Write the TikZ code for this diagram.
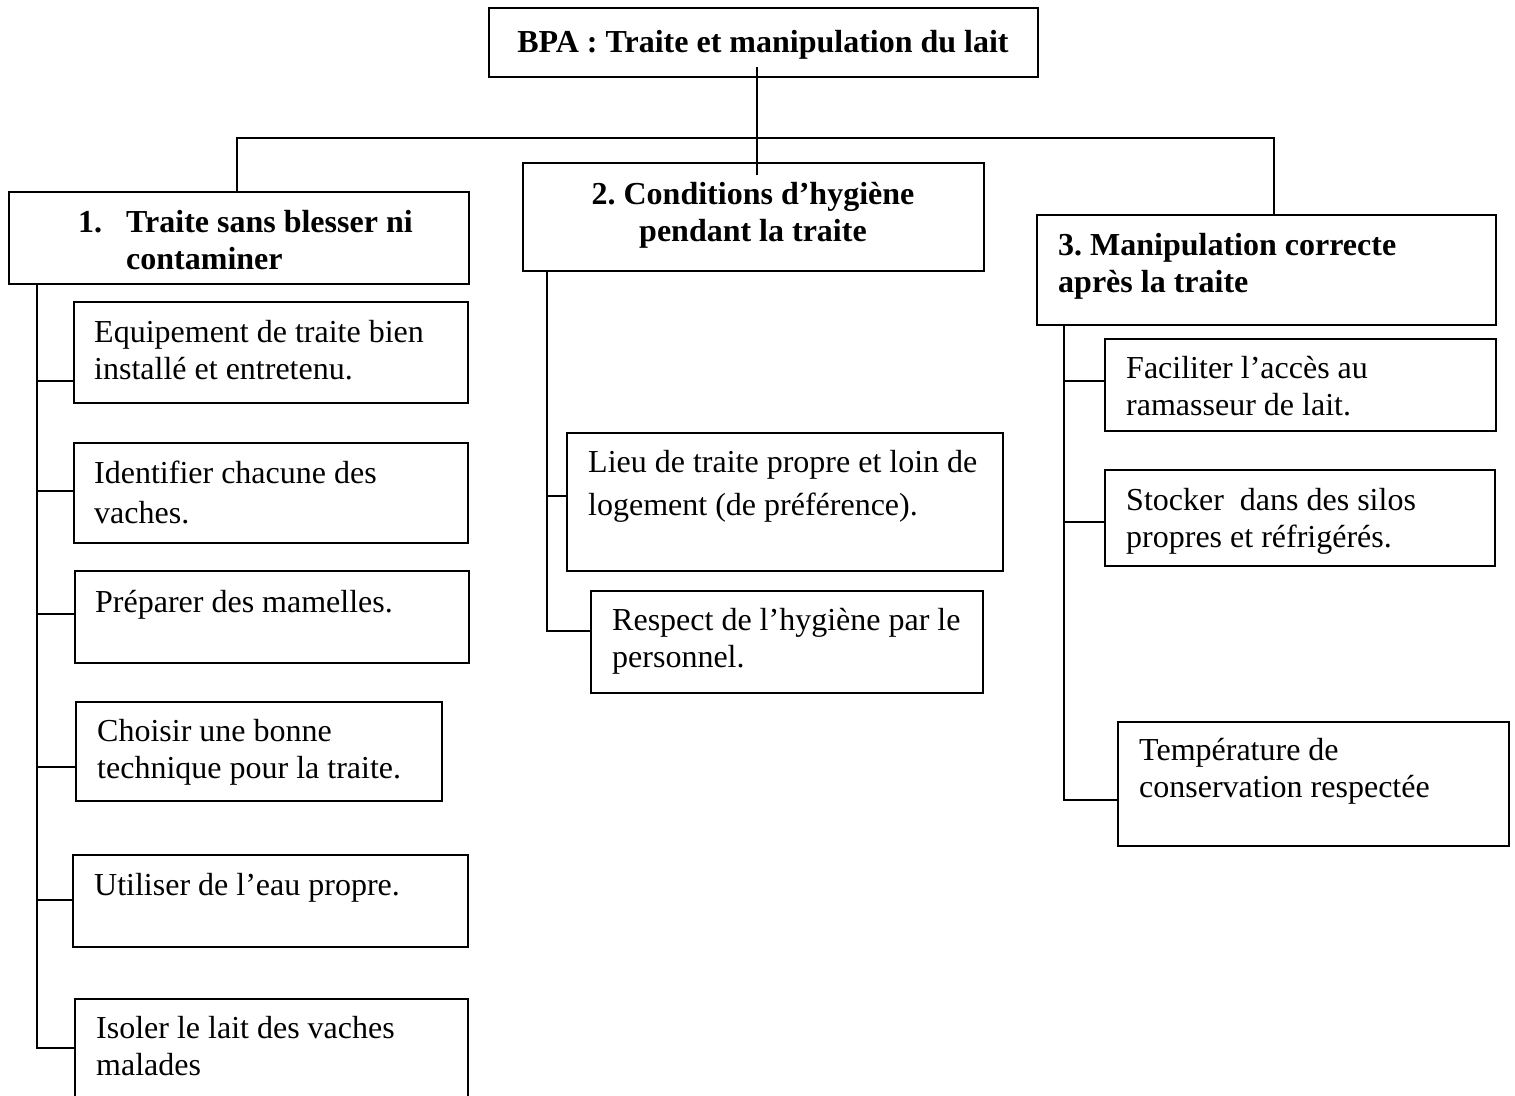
\documentclass[tikz,border=0pt]{standalone}
\usepackage{fontspec}
\setmainfont{Liberation Serif}
\usetikzlibrary{calc}
\frenchspacing
\newcommand{\fz}{\fontsize{32}{37}\selectfont\frenchspacing}
\newcommand{\mkbox}[5]{\node[box, minimum width={#4pt-#2pt}, minimum height={#5pt-#3pt}] (#1) at (#2,#3) {};}
\begin{document}
\begin{tikzpicture}[x=1pt,y=-1pt,
  box/.style={draw, line width=1.5pt, inner sep=0pt, outer sep=0pt, anchor=north west, rectangle},
  txt/.style={inner sep=0pt, anchor=north west, align=left, font=\fz},
  btxt/.style={txt, font=\fz\bfseries},
  conn/.style={line width=1.5pt}]
\useasboundingbox (0,0) rectangle (1515,1095);
\clip (0,0) rectangle (1515,1095);
% boxes
\mkbox{top}{489}{8}{1038}{77}
\mkbox{b1}{9}{192}{469}{284}
\mkbox{b2}{523}{163}{984}{271}
\mkbox{b3}{1037}{215}{1496}{325}
\mkbox{c1}{74}{302}{468}{403}
\mkbox{c2}{74}{443}{468}{543}
\mkbox{c3}{75}{571}{469}{663}
\mkbox{c4}{76}{702}{442}{801}
\mkbox{c5}{73}{855}{468}{947}
\mkbox{c6}{75}{999}{468}{1120}
\mkbox{m1}{567}{433}{1003}{571}
\mkbox{m2}{591}{591}{983}{693}
\mkbox{r1}{1105}{339}{1496}{431}
\mkbox{r2}{1105}{470}{1495}{566}
\mkbox{r3}{1118}{722}{1509}{846}
% texts
\node[btxt, anchor=north, align=center] (ttop) at (763,26.1) {\strut BPA : Traite et manipulation du lait};
\node[btxt] (tb1) at (78,206.1) {\strut\makebox[48pt][l]{1.}Traite sans blesser ni\\\strut\hspace*{48pt}contaminer};
\node[btxt, anchor=north, align=center] (tb2) at (753,178.1) {\strut 2. Conditions d’hygiène\\\strut pendant la traite};
\node[btxt] (tb3) at (1058,229.1) {\strut 3. Manipulation correcte\\\strut après la traite};
\node[txt] (tc1) at (94,316.1) {\strut Equipement de traite bien\\\strut installé et entretenu.};
\node[txt] (tc2) at (94,457.1) {\strut Identifier chacune des\\[3pt]\strut vaches.};
\node[txt] (tc3) at (95,586.1) {\strut Préparer des mamelles.};
\node[txt] (tc4) at (97,715.1) {\strut Choisir une bonne\\\strut technique pour la traite.};
\node[txt] (tc5) at (94,869.1) {\strut Utiliser de l’eau propre.};
\node[txt] (tc6) at (96,1012.1) {\strut Isoler le lait des vaches\\\strut malades};
\node[txt] (tm1) at (588,446.1) {\strut Lieu de traite propre et loin de\\[6pt]\strut logement (de préférence).};
\node[txt] (tm2) at (612,604.1) {\strut Respect de l’hygiène par le\\\strut personnel.};
\node[txt] (tr1) at (1126,352.1) {\strut Faciliter l’accès au\\\strut ramasseur de lait.};
\node[txt] (tr2) at (1126,484.1) {\strut Stocker\ \ dans des silos\\\strut propres et réfrigérés.};
\node[txt] (tr3) at (1139,734.1) {\strut Température de\\\strut conservation respectée};
% top connectors
\coordinate (sA) at (757,67);
\coordinate (sB) at (757,175);
\draw[conn] (sA) -- (sB);
\coordinate (busL) at (237,138);
\coordinate (busR) at (1274,138);
\draw[conn] (busL |- b1.north) -- (busL) -- (busR) -- (busR |- b3.north);
% left branch
\coordinate (lk1) at (37,381);
\coordinate (lk2) at (37,491);
\coordinate (lk3) at (37,614);
\coordinate (lk4) at (37,767);
\coordinate (lk5) at (37,900);
\coordinate (lk6) at (37,1048);
\draw[conn] (lk1 |- b1.south) -- (lk6) -- (lk6 -| c6.west);
\draw[conn] (lk1) -- (lk1 -| c1.west);
\draw[conn] (lk2) -- (lk2 -| c2.west);
\draw[conn] (lk3) -- (lk3 -| c3.west);
\draw[conn] (lk4) -- (lk4 -| c4.west);
\draw[conn] (lk5) -- (lk5 -| c5.west);
% middle branch
\coordinate (mk1) at (547,496);
\coordinate (mk2) at (547,631);
\draw[conn] (mk1 |- b2.south) -- (mk2) -- (mk2 -| m2.west);
\draw[conn] (mk1) -- (mk1 -| m1.west);
% right branch
\coordinate (rk1) at (1064,381);
\coordinate (rk2) at (1064,522);
\coordinate (rk3) at (1064,800);
\draw[conn] (rk1 |- b3.south) -- (rk3) -- (rk3 -| r3.west);
\draw[conn] (rk1) -- (rk1 -| r1.west);
\draw[conn] (rk2) -- (rk2 -| r2.west);
\end{tikzpicture}
\end{document}
